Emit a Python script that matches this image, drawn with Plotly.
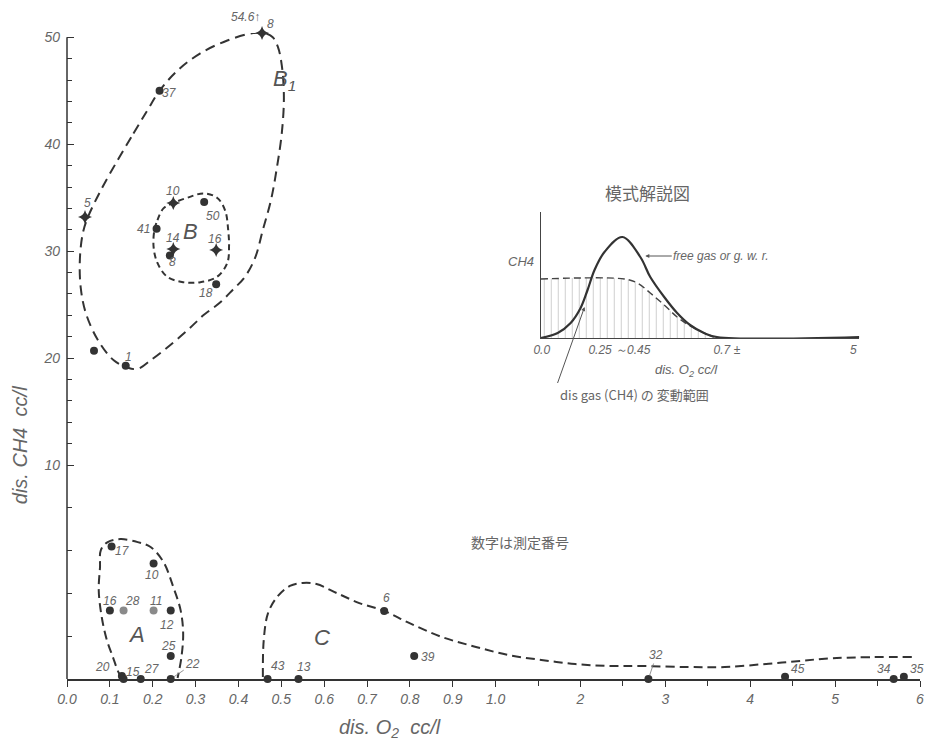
import numpy as np
import plotly.graph_objects as go

# ---------------- data ----------------
pt_no = ["8", "37", "5", "10", "50", "41", "14", "8", "16", "18", "", "1",
         "17", "10", "16", "28", "11", "12", "25", "20", "15", "27", "22",
         "43", "13", "6", "39", "32", "45", "34", "35"]
o2 = [0.455, 0.216, 0.042, 0.248, 0.320, 0.209, 0.248, 0.240, 0.348, 0.348, 0.063, 0.137,
      0.104, 0.202, 0.100, 0.132, 0.202, 0.242, 0.242, 0.128, 0.132, 0.172, 0.242,
      0.468, 0.540, 0.740, 0.810, 2.80, 4.41, 5.69, 5.81]
ch4 = [54.6, 45.0, 33.2, 34.5, 34.6, 32.1, 30.2, 29.6, 30.1, 26.9, 20.7, 19.3,
       6.2, 5.4, 3.2, 3.2, 3.2, 3.2, 1.07, 0.14, 0.0, 0.0, 0.0,
       0.0, 0.0, 3.18, 1.07, 0.0, 0.1, 0.0, 0.1]
kind = ["star", "dot", "star", "star", "dot", "dot", "star", "dot", "star", "dot", "dot", "dot",
        "dot", "dot", "dot", "pale", "pale", "dot", "dot", "dot", "dot", "dot", "dot",
        "dot", "dot", "dot", "dot", "dot", "dot", "dot", "dot"]

# group boundaries (O2, CH4)
b1_o2 = [0.118, 0.155, 0.188, 0.216, 0.258, 0.311, 0.374, 0.434, 0.460, 0.480, 0.492, 0.501,
         0.506, 0.501, 0.490, 0.476, 0.457, 0.439, 0.415, 0.387, 0.357, 0.318, 0.281, 0.234,
         0.195, 0.165, 0.142, 0.109, 0.072, 0.044, 0.032, 0.030, 0.037, 0.049, 0.079, 0.118]
b1_ch4 = [38.5, 41.0, 43.2, 45.0, 46.9, 48.5, 49.7, 50.4, 50.5, 50.0, 49.1, 47.4,
          44.4, 41.0, 37.9, 34.8, 32.0, 29.4, 27.6, 26.4, 25.2, 24.0, 22.6, 21.0,
          19.8, 19.0, 19.1, 19.8, 21.7, 24.2, 26.6, 29.2, 31.7, 33.2, 35.7, 38.5]
b_o2 = [0.204, 0.211, 0.225, 0.248, 0.281, 0.318, 0.350, 0.369, 0.376, 0.378, 0.374, 0.350,
        0.311, 0.271, 0.234, 0.211, 0.202, 0.204]
b_ch4 = [32.0, 32.9, 34.0, 34.5, 35.0, 35.4, 35.0, 33.8, 32.0, 30.4, 28.9, 27.6,
         27.1, 27.1, 27.6, 28.9, 30.4, 32.0]
a_o2 = [0.130, 0.121, 0.107, 0.093, 0.081, 0.074, 0.077, 0.079, 0.095, 0.125, 0.165, 0.195,
        0.225, 0.248, 0.265, 0.271, 0.267, 0.258]
a_ch4 = [0.05, 0.28, 1.03, 1.82, 2.90, 4.16, 5.23, 6.03, 6.40, 6.54, 6.40, 6.17,
         5.47, 4.30, 3.22, 2.15, 1.03, 0.05]
c_o2 = [0.457, 0.459, 0.469, 0.490, 0.520, 0.550, 0.582, 0.629, 0.682, 0.740, 0.798, 0.875,
        0.954, 1.152, 1.539, 1.938, 2.32, 2.71, 3.26, 3.70, 4.32, 5.02, 5.96]
c_ch4 = [0.09, 1.82, 3.08, 3.83, 4.35, 4.49, 4.44, 4.02, 3.55, 3.18, 2.62, 1.96,
         1.50, 1.12, 0.89, 0.70, 0.61, 0.61, 0.56, 0.56, 0.75, 0.98, 1.03]

x_ticks = [0.0, 0.1, 0.2, 0.3, 0.4, 0.5, 0.6, 0.7, 0.8, 0.9, 1.0, 2, 3, 4, 5, 6]
x_ticktext = ["0.0", "0.1", "0.2", "0.3", "0.4", "0.5", "0.6", "0.7", "0.8", "0.9", "1.0",
              "2", "3", "4", "5", "6"]
x_minor = [1.5, 2.5, 3.5, 4.5, 5.5]
y_ticks = [10, 20, 30, 40, 50]
y_minor = [2, 4, 6, 8, 12, 14, 16, 18, 22, 24, 26, 28, 32, 34, 36, 38, 42, 44, 46, 48]

# schematic inset (arbitrary units)
ins_x_free = [0, 17, 30, 40, 47, 54, 64, 82, 100, 110, 124, 137, 150, 164, 177, 320]
ins_free = [0, 5, 15, 30, 48, 68, 86, 101, 81, 61, 41, 25, 13, 5, 1, 1]
ins_x_dis = [0, 84, 97, 110, 124, 137, 150, 164, 174]
ins_dis = [59, 59, 55, 45, 33, 21, 12, 5, 1]
ins_tickvals = [1, 79, 187, 314]
ins_ticktext = ["0.0", "0.25 ～0.45", "0.7 ±", "5"]

# ---------------- scale (two-segment axes) ----------------
X_K = 0.198   # compression of O2 axis above 1.0
Y_K = 0.5     # compression of CH4 axis above 10
CH4_TOP = 50.4  # off-scale values drawn at top


def tx(v):
    v = np.asarray(v, dtype=float)
    return np.where(v <= 1.0, v, 1.0 + (v - 1.0) * X_K)


def ty(v):
    v = np.minimum(np.asarray(v, dtype=float), CH4_TOP)
    return np.where(v <= 10.0, v, 10.0 + (v - 10.0) * Y_K)


# ---------------- layout helpers ----------------
W, H = 930, 740
Y_TOP = 51.0
ML, MR, MB = 67, 6, 61
PH_UNIT = 21.4
MT = int(round(H - MB - PH_UNIT * float(ty(Y_TOP))))
PW, PH = W - ML - MR, H - MT - MB


def P(px, py):
    return (px - ML) / PW, (H - MB - py) / PH


TXT = "#666666"
INK = "#333333"
FONT = "Liberation Sans"


def paper_text(fig, text, px, py, font, **kw):
    x0, y0 = P(px, py)
    opts = dict(xanchor="center", yanchor="middle")
    opts.update(kw)
    fig.add_annotation(x=x0, y=y0, xref="paper", yref="paper", text=text, font=font,
                       showarrow=False, **opts)


fig = go.Figure()

# boundaries
curves = [(b1_o2, b1_ch4, "10px,6px"), (b_o2, b_ch4, "6px,4px"),
          (a_o2, a_ch4, "9px,5px"), (c_o2, c_ch4, "9px,5px")]
for cx, cy, dash in curves:
    fig.add_trace(go.Scatter(x=tx(cx), y=ty(cy), mode="lines",
                             line=dict(color=INK, width=2, dash=dash, shape="spline", smoothing=1.0),
                             hoverinfo="skip", showlegend=False, cliponaxis=False))

# points
styles = {"dot": dict(symbol="circle", size=8, color="#333333"),
          "pale": dict(symbol="circle", size=8, color="#8a8a8a"),
          "star": dict(symbol="star-diamond", size=10, color="#333333")}
for k, st in styles.items():
    idx = [i for i, kk in enumerate(kind) if kk == k]
    fig.add_trace(go.Scatter(x=tx([o2[i] for i in idx]), y=ty([ch4[i] for i in idx]),
                             mode="markers", marker=dict(symbol=st["symbol"], size=st["size"],
                                                         color=st["color"], line=dict(width=0)),
                             text=[pt_no[i] for i in idx], showlegend=False, cliponaxis=False))

# point-number label offsets (px right, px down)
label_off = [(8, -9), (10, 2), (2, -14), (0, -12), (9, 14), (-13, 0), (0, -11), (3, 7), (-1, -11),
             (-10, 9), (0, 0), (3, -9),
             (11, 5), (-2, 12), (0, -10), (9, -10), (2, -10), (-4, 14), (-2, -10), (-19, -9),
             (9, -7), (11, -10), (22, -15),
             (10, -13), (6, -12), (2, -13), (14, 1), (8, -24), (13, -8), (-10, -10), (13, -8)]
leader = {22, 27}
lab_font = dict(family=FONT, size=12, color=TXT, style="italic")
for i, (name, (dx, dy)) in enumerate(zip(pt_no, label_off)):
    if not name:
        continue
    xx, yy = float(tx(o2[i])), float(ty(ch4[i]))
    if i in leader:
        fig.add_annotation(x=xx, y=yy, xref="x", yref="y", text=name, font=lab_font,
                           showarrow=True, arrowhead=0, arrowwidth=0.8, arrowcolor="#777",
                           ax=dx, ay=dy, standoff=4)
    else:
        fig.add_annotation(x=xx, y=yy, xref="x", yref="y", text=name, font=lab_font,
                           showarrow=False, xshift=dx, yshift=-dy)
# off-scale value note
fig.add_annotation(x=float(tx(o2[0])), y=float(ty(ch4[0])), xref="x", yref="y", text="54.6↑",
                   font=lab_font, showarrow=False, xshift=-17, yshift=16)

# group letters
big = dict(family=FONT, size=22, color="#555555", style="italic")
for t, px, py in [("B<sub>1</sub>", 286, 80), ("B", 191, 231), ("A", 137, 634), ("C", 323, 637)]:
    paper_text(fig, t, px, py, big)

# axis titles
paper_text(fig, "dis. O<sub>2</sub>&nbsp;&nbsp;cc/l", 392, 714,
           dict(family=FONT, size=20, color=TXT, style="italic"), yanchor="top")
paper_text(fig, "dis. CH4&nbsp;&nbsp;cc/l", 20, 445,
           dict(family=FONT, size=20, color=TXT, style="italic"), textangle=-90)
paper_text(fig, "数字は測定番号", 522, 542, dict(family="Noto Sans CJK JP", size=14, color=TXT))

# ---------------- inset ----------------
fig.add_trace(go.Scatter(x=ins_x_dis, y=ins_dis, xaxis="x2", yaxis="y2", mode="lines",
                         line=dict(color="#444", width=1.4, dash="7px,4px", shape="spline"),
                         fill="tozeroy", fillcolor="rgba(255,255,255,0)",
                         fillpattern=dict(shape="|", fgcolor="#8c8c8c", bgcolor="rgba(255,255,255,0)",
                                          size=7, solidity=0.12),
                         hoverinfo="skip", showlegend=False))
fig.add_trace(go.Scatter(x=ins_x_free, y=ins_free, xaxis="x2", yaxis="y2", mode="lines",
                         line=dict(color="#333", width=2.2, shape="spline"),
                         hoverinfo="skip", showlegend=False))

ix0, iy0 = P(543, 338)
ix1, iy1 = P(863, 212)
paper_text(fig, "模式解説図", 650, 193, dict(family="Noto Sans CJK JP", size=17, color=TXT))
paper_text(fig, "CH4", 523, 261, dict(family=FONT, size=13, color=TXT, style="italic"))
paper_text(fig, "dis. O<sub>2</sub> cc/l", 689, 370, dict(family=FONT, size=13, color=TXT, style="italic"))
hx, hy = P(648, 256)
fig.add_annotation(x=hx, y=hy, xref="paper", yref="paper", text="free gas or g. w. r.",
                   xanchor="center", yanchor="middle",
                   font=dict(family=FONT, size=12, color=TXT, style="italic"),
                   showarrow=True, arrowhead=2, arrowsize=0.8, arrowwidth=1, arrowcolor="#555",
                   ax=76, ay=0)
hx, hy = P(587, 307)
fig.add_annotation(x=hx, y=hy, xref="paper", yref="paper", text="dis gas (CH4) の 変動範囲",
                   xanchor="left", yanchor="top",
                   font=dict(family="Noto Sans CJK JP", size=13, color=TXT),
                   showarrow=True, arrowhead=2, arrowsize=0.8, arrowwidth=1, arrowcolor="#555",
                   ax=-27, ay=76)

# main y-axis line only up to 50
fig.add_shape(type="line", xref="paper", yref="y", x0=0, x1=0, y0=0, y1=float(ty(50)),
              line=dict(color=INK, width=1.5))

axis_font = dict(family=FONT, size=14, color=TXT, style="italic")
fig.update_layout(
    width=W, height=H, autosize=False,
    margin=dict(l=ML, r=MR, t=MT, b=MB, pad=0),
    paper_bgcolor="white", plot_bgcolor="white",
    showlegend=False,
    xaxis=dict(range=[0, float(tx(6))], tickmode="array", tickvals=tx(x_ticks).tolist(),
               ticktext=x_ticktext, ticks="outside", ticklen=6, tickwidth=1, tickcolor=INK,
               showline=True, linecolor=INK, linewidth=1.5, showgrid=False, zeroline=False,
               tickfont=axis_font,
               minor=dict(tickmode="array", tickvals=tx(x_minor).tolist(), ticks="outside",
                          ticklen=5, tickcolor=INK, showgrid=False)),
    yaxis=dict(range=[0, float(ty(Y_TOP))], tickmode="array", tickvals=ty(y_ticks).tolist(),
               ticktext=[str(v) for v in y_ticks], ticks="inside", ticklen=7, tickwidth=1,
               tickcolor=INK, showline=False, showgrid=False,
               zeroline=False, tickfont=axis_font, ticklabelstandoff=6,
               minor=dict(tickmode="array", tickvals=ty(y_minor).tolist(), ticks="inside",
                          ticklen=5, tickcolor=INK, showgrid=False)),
    xaxis2=dict(domain=[ix0, ix1], anchor="y2", range=[0, 320], showline=True, linecolor="#444",
                linewidth=1.2, showgrid=False, zeroline=False, tickmode="array",
                tickvals=ins_tickvals, ticktext=ins_ticktext, ticks="",
                tickfont=dict(family=FONT, size=12, color=TXT, style="italic")),
    yaxis2=dict(domain=[iy0, iy1], anchor="x2", range=[0, 126], showline=True, linecolor="#444",
                linewidth=1.2, showgrid=False, zeroline=False, showticklabels=False, ticks=""),
)

fig.write_html("out.html", config={"displayModeBar": False},
               post_script="document.body.style.margin='0px';document.body.style.overflow='hidden';")
